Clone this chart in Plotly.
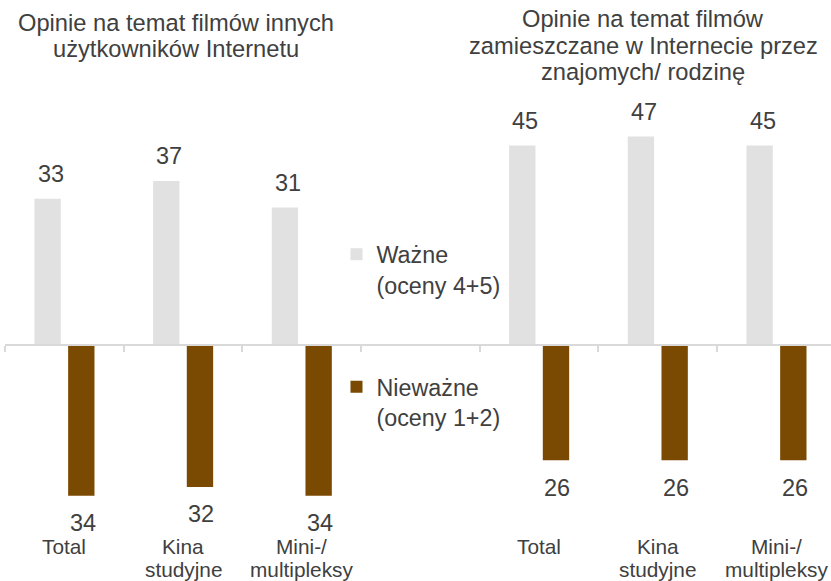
import plotly.graph_objects as go

# Category labels and their slots on the shared x axis (slot 3 is the gap between panels)
categories = ["Total", "Kina<br>studyjne", "Mini-/<br>multipleksy"]
left_slots = [0, 1, 2]
right_slots = [4, 5, 6]

# Panel titles
left_title = ["Opinie na temat filmów innych", "użytkowników Internetu"]
right_title = ["Opinie na temat filmów", "zamieszczane w Internecie przez", "znajomych/ rodzinę"]

# Shares (%) - left panel: opinions of other Internet users
wazne_inni = [33, 37, 31]
niewazne_inni = [34, 32, 34]
# Shares (%) - right panel: opinions posted by friends / family
wazne_znajomi = [45, 47, 45]
niewazne_znajomi = [26, 26, 26]

series_names = ["Ważne<br>(oceny 4+5)", "Nieważne<br>(oceny 1+2)"]

FONT = "Liberation Sans, Arial, sans-serif"
TEXT = "#404040"
GRAY = "#E1E1E1"
BROWN = "#7B4A02"
AXIS = "#D9D9D9"

W, H = 831, 581
ZERO_PX = 345          # pixel row of the zero line
PX_PER_UNIT = 4.435    # vertical scale
SLOT_PX = 118.67
LEFT_PX = 5

bar_w = 0.222
off_pos = -0.252
off_neg = 0.032

x_all = left_slots + right_slots
pos_vals = wazne_inni + wazne_znajomi
neg_vals = niewazne_inni + niewazne_znajomi

fig = go.Figure()
fig.add_trace(go.Bar(
    x=x_all, y=pos_vals, width=bar_w, offset=off_pos,
    marker=dict(color=GRAY, line=dict(width=0)),
    name=series_names[0], legend="legend", hoverinfo="skip",
))
fig.add_trace(go.Bar(
    x=x_all, y=[-v for v in neg_vals], width=bar_w, offset=off_neg,
    marker=dict(color=BROWN, line=dict(width=0)),
    name=series_names[1], legend="legend2", hoverinfo="skip",
))

annotations = []
# value labels
for xi, v in zip(x_all, pos_vals):
    annotations.append(dict(
        x=xi + off_pos + bar_w / 2, y=v, xref="x", yref="y", text=str(v),
        showarrow=False, yanchor="middle", xanchor="center", yshift=24.5, xshift=3,
        font=dict(size=23.5, color=TEXT, family=FONT)))
for xi, v in zip(x_all, neg_vals):
    annotations.append(dict(
        x=xi + off_neg + bar_w / 2, y=-v, xref="x", yref="y", text=str(v),
        showarrow=False, yanchor="middle", xanchor="center", yshift=-27.2, xshift=1.5,
        font=dict(size=23.5, color=TEXT, family=FONT)))


def py(px):
    return 1 - px / H


# category labels below the panels, one line at a time
for slots in (left_slots, right_slots):
    for xi, lab in zip(slots, categories):
        for k, line in enumerate(lab.split("<br>")):
            annotations.append(dict(
                x=xi, y=py(546.5 + 23 * k), xref="x", yref="paper", text=line,
                showarrow=False, yanchor="middle", xanchor="center",
                font=dict(size=20.8, color=TEXT, family=FONT)))

# panel titles
for lines, cx, y0 in ((left_title, 172.5, 22.5), (right_title, 642.3, 19.5)):
    for k, line in enumerate(lines):
        annotations.append(dict(
            x=cx / W, y=py(y0 + 26.3 * k), xref="paper", yref="paper", text=line,
            showarrow=False, yanchor="middle", xanchor="center",
            font=dict(size=23.7, color=TEXT, family=FONT)))

x_lo = -0.5
x_hi = x_lo + (W - LEFT_PX) / SLOT_PX
y_hi = ZERO_PX / PX_PER_UNIT
y_lo = -(H - ZERO_PX) / PX_PER_UNIT

legend_style = dict(
    font=dict(size=23.3, color=TEXT, family=FONT),
    bgcolor="rgba(0,0,0,0)", borderwidth=0, valign="top",
    xanchor="left", yanchor="top", itemclick=False, itemdoubleclick=False,
)

fig.update_layout(
    width=W, height=H,
    margin=dict(l=LEFT_PX, r=0, t=0, b=0, autoexpand=False),
    paper_bgcolor="white", plot_bgcolor="white",
    barmode="overlay",
    showlegend=True,
    legend=dict(x=333.5 / W, y=py(232.5), **legend_style),
    legend2=dict(x=333.5 / W, y=py(365), **legend_style),
    xaxis=dict(
        range=[x_lo, x_hi], anchor="free", position=1 - ZERO_PX / H,
        showline=True, linecolor=AXIS, linewidth=2,
        tickmode="array", tickvals=[s - 0.5 for s in range(7)],
        ticks="outside", ticklen=6, tickwidth=2, tickcolor=AXIS,
        showticklabels=False, showgrid=False, zeroline=False, fixedrange=True,
    ),
    yaxis=dict(range=[y_lo, y_hi], visible=False, fixedrange=True),
    annotations=annotations,
    font=dict(family=FONT, color=TEXT),
)

fig.write_html("out.html", config={"displayModeBar": False})
